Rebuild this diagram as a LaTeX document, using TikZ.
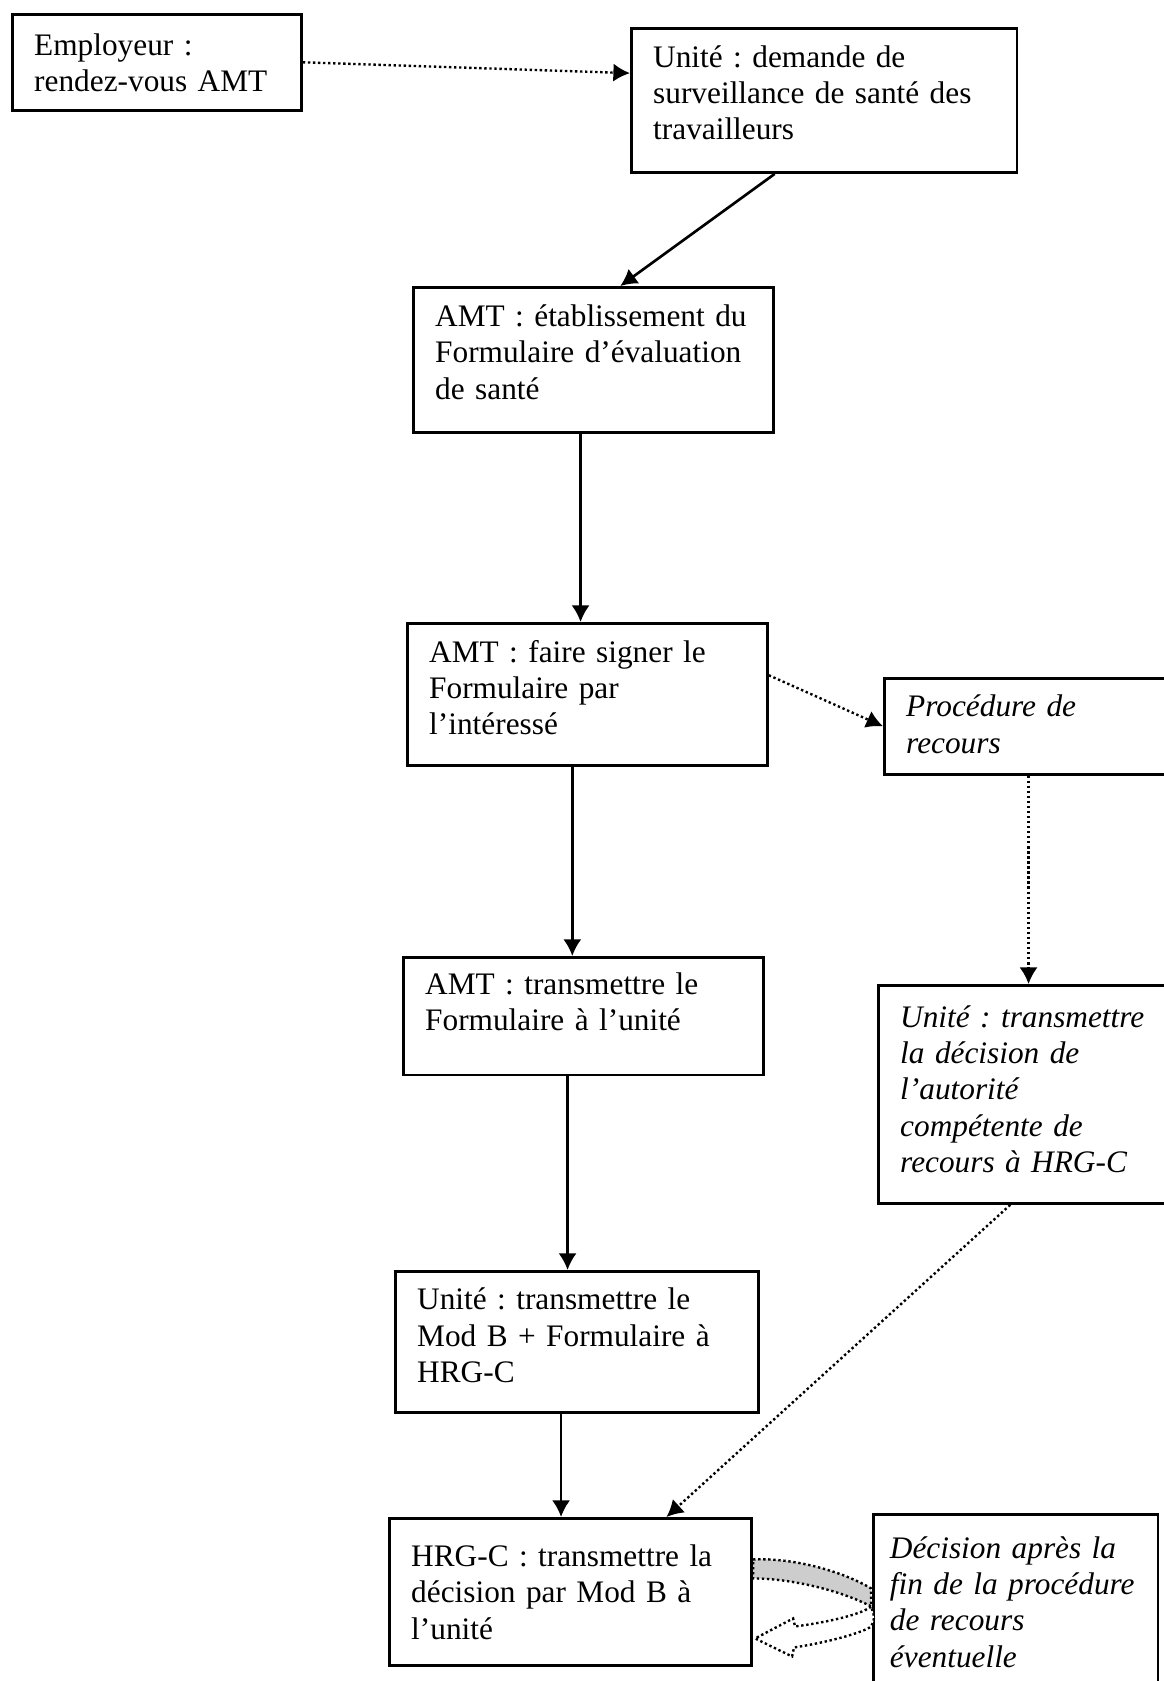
\documentclass[tikz,border=0pt]{standalone}
\usepackage{fontspec}
\setmainfont{Liberation Serif}
\usepackage{tikz}
\usetikzlibrary{arrows.meta}
\definecolor{bandegris}{RGB}{205,205,205}
\frenchspacing

\begin{document}
\begin{tikzpicture}[x=0.01325cm, y=-0.01325cm, >={Latex[length=2.2mm,width=2.4mm]},
  etape/.style={draw, line width=1pt, anchor=north west, align=left,
    inner xsep=0.29cm, text height=0.3cm, font=\fontsize{11.8}{13.7}\selectfont},
  italique/.style={etape, font=\fontsize{11.8}{13.7}\selectfont\itshape},
  fleche/.style={->, line width=1pt},
  pointille/.style={->, line width=0.9pt, densely dotted}]
\useasboundingbox (0,0) rectangle (1164,1681);
\clip (0,0) rectangle (1164,1681);

% colonne de gauche
\node [etape, text width=3.25cm, minimum height=1.27cm, text depth=0.49cm] (emp) at (11,13)
{Employeur :\\ rendez-vous AMT};
\node [etape, text width=4.53cm, minimum height=1.91cm, text depth=1.18cm] (unite) at (630,27)
{Unité : demande de\\ surveillance de santé des\\ travailleurs};
\node [etape, text width=4.19cm, minimum height=1.92cm, text depth=1.18cm] (etab) at (412,286)
{AMT : établissement du\\ Formulaire d’évaluation\\ de santé};
\node [etape, text width=4.19cm, minimum height=1.88cm, text depth=1.15cm] (signer) at (406,622)
{AMT : faire signer le\\ Formulaire par\\ l’intéressé};
\node [etape, text width=4.19cm, minimum height=1.56cm, text depth=0.88cm] (transf) at (402,956)
{AMT : transmettre le\\ Formulaire à l’unité};
\node [etape, text width=4.23cm, minimum height=1.87cm, text depth=1.15cm] (modb) at (394,1270)
{Unité : transmettre le\\ Mod B + Formulaire à\\ HRG-C};
\node [etape, text width=4.22cm, minimum height=1.95cm, text depth=0.98cm] (hrg) at (388,1517)
{HRG-C : transmettre la\\ décision par Mod B à\\ l’unité};

% colonne de droite (recours)
\node [italique, text width=3.36cm, minimum height=1.27cm, text depth=0.55cm] (recours) at (883,677)
{Procédure de\\ recours};
\node [italique, text width=3.43cm, minimum height=2.89cm, text depth=2.08cm] (autorite) at (877,984)
{Unité : transmettre\\ la décision de\\ l’autorité\\ compétente de\\ recours à HRG-C};
\node [italique, text width=3.33cm, inner xsep=0.22cm, minimum height=2.52cm, text depth=1.66cm] (decision) at (872,1513)
{Décision après la\\ fin de la procédure\\ de recours\\ éventuelle};

% liaisons
\draw [pointille] (emp.east) -- (unite.172);
\draw [fleche] (unite.236) -- (etab.70);
\draw [fleche] ([xshift=-0.17cm]etab.south) -- ([xshift=-0.17cm]etab.south |- signer.north);
\draw [fleche] ([xshift=-0.2cm]signer.south) -- ([xshift=-0.2cm]signer.south |- transf.north);
\draw [fleche] ([xshift=-0.21cm]transf.south) -- ([xshift=-0.21cm]transf.south |- modb.north);
\draw [fleche] ([xshift=-0.21cm]modb.south) -- ([xshift=-0.21cm]modb.south |- hrg.north);
\draw [pointille] (signer.6) -- (recours.west);
\draw [pointille] ([xshift=-0.06cm]recours.south) -- ([xshift=-0.06cm]recours.south |- autorite.north);
\draw [pointille] (autorite.260) -- (hrg.38);

% fleche courbe entre la decision et HRG-C
\begin{scope}[shift={(hrg.east)}, line width=0.9pt, densely dotted]
\draw [fill=bandegris] (0,-32.5) .. controls (40,-34.5) and (90,-20.5) .. (118,-3.5)
  -- (118,14.5) .. controls (90,-0.5) and (40,-13.5) .. (0,-13.5) -- cycle;
\draw [fill=white] (118,14.5) .. controls (110,21.5) and (80,29.5) .. (42,34.5)
  -- (40,26.5) -- (2,46.5) -- (39,64.5) -- (41,55.5)
  .. controls (80,49.5) and (112,39.5) .. (118,34.5)
  .. controls (122,26) .. (118,14.5) -- cycle;
\end{scope}
\end{tikzpicture}
\end{document}
